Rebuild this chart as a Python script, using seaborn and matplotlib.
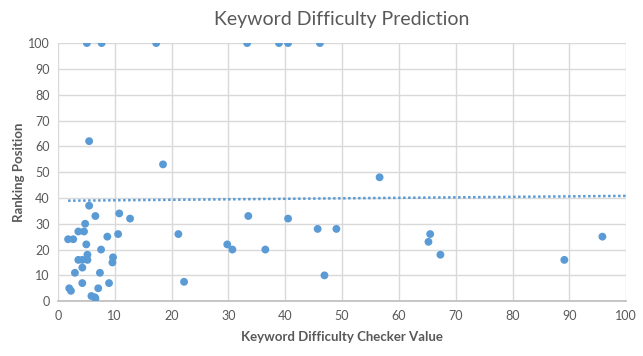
import numpy as np
import pandas as pd
import matplotlib
matplotlib.use("Agg")
import matplotlib.pyplot as plt
import seaborn as sns

# ---------------------------
# Data
# ---------------------------
checker_value = [
    5.1, 7.7, 17.3, 33.3, 38.9, 40.5, 46.1,          # ranking 100
    5.5, 18.5, 56.6,
    5.5, 6.6, 10.8, 12.7, 4.8, 3.6, 4.6, 1.8, 2.7, 8.7, 10.6, 21.2,
    5.0, 7.6, 5.2, 3.6, 4.3, 5.2, 9.7, 9.6, 4.3, 3.0, 7.4,
    4.3, 9.0, 7.1, 2.0, 2.3, 5.9, 6.5, 6.6, 22.2,
    29.8, 30.7, 33.5, 36.5, 40.5, 45.7, 49.0, 46.9,
    65.5, 65.2, 67.3, 89.1, 95.8,
]
ranking_position = [
    100, 100, 100, 100, 100, 100, 100,
    62, 53, 48,
    37, 33, 34, 32, 30, 27, 27, 24, 24, 25, 26, 26,
    22, 20, 18, 16, 16, 16, 17, 15, 13, 11, 11,
    7, 7, 5, 5, 4, 2, 1.5, 1, 7.5,
    22, 20, 33, 20, 32, 28, 28, 10,
    26, 23, 18, 16, 25,
]

# linear trendline as shown on the chart (Excel trendline)
trend_intercept = 38.9
trend_slope = 0.019
trend_x_end = 100

df = pd.DataFrame({"checker": checker_value, "rank": ranking_position})

blue = "#5b9bd5"
grey_text = "#595959"

sns.set_theme(style="whitegrid")
plt.rcParams["font.family"] = ["Lato", "DejaVu Sans"]

fig = plt.figure(figsize=(6.43, 3.56), dpi=100)
ax = fig.add_axes([0.090, 0.154, 0.884, 0.725])

sns.scatterplot(x="checker", y="rank", data=df, color=blue, s=32,
                edgecolor="none", ax=ax, zorder=3)

xs = np.array([df["checker"].min(), trend_x_end])
ax.plot(xs, trend_intercept + trend_slope * xs, color=blue,
        linestyle=(0, (1, 1)), linewidth=1.8, zorder=2)

ax.set_xlim(0, 100)
ax.set_ylim(0, 100)
ax.set_xticks(range(0, 101, 10))
ax.set_yticks(range(0, 101, 10))
ax.grid(color="#d9d9d9", linewidth=1)
for side in ["top", "right", "left"]:
    ax.spines[side].set_visible(False)
ax.spines["bottom"].set_color("#bfbfbf")
ax.tick_params(axis="both", colors=grey_text, labelsize=9, length=0, pad=6)

ax.set_title("Keyword Difficulty Prediction", color=grey_text, fontsize=14,
             fontweight="normal", pad=13)
ax.set_xlabel("Keyword Difficulty Checker Value", color=grey_text,
              fontsize=9.5, fontweight="bold", labelpad=7)
ax.set_ylabel("Ranking Position", color=grey_text,
              fontsize=9.5, fontweight="bold", labelpad=2)

plt.savefig("out.png", dpi=100)
plt.close()
